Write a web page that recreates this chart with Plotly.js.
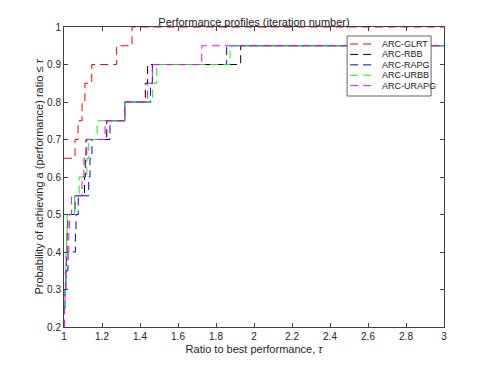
<!DOCTYPE html>
<html><head><meta charset="utf-8">
<script src="https://cdn.plot.ly/plotly-3.0.1.min.js"></script>
<style>html,body{margin:0;padding:0;background:#fff}#chart{width:491px;height:368px}</style>
</head><body><div id="chart"></div>
<script>
// ---- data ----
const seriesNames = ["ARC-GLRT", "ARC-RBB", "ARC-RAPG", "ARC-URBB", "ARC-URAPG"];

const glrtTau  = [1, 1.058, 1.074, 1.095, 1.11, 1.146, 1.277, 1.358, 3];
const glrtProb = [0.65, 0.70, 0.75, 0.80, 0.85, 0.90, 0.95, 1.00, 1.00];

const rbbTau  = [1, 1.01, 1.013, 1.016, 1.02, 1.058, 1.108, 1.112, 1.116, 1.225, 1.32, 1.428, 1.44, 1.93, 3];
const rbbProb = [0.30, 0.35, 0.40, 0.45, 0.50, 0.55, 0.60, 0.65, 0.70, 0.75, 0.80, 0.85, 0.90, 0.95, 0.95];

const rapgTau  = [1, 1.005, 1.01, 1.021, 1.06, 1.063, 1.075, 1.13, 1.137, 1.147, 1.242, 1.32, 1.455, 1.465, 1.856, 3];
const rapgProb = [0.25, 0.30, 0.35, 0.40, 0.45, 0.50, 0.55, 0.60, 0.65, 0.70, 0.75, 0.80, 0.85, 0.90, 0.95, 0.95];

const urbbTau  = [1, 1.005, 1.008, 1.01, 1.013, 1.016, 1.055, 1.08, 1.12, 1.13, 1.175, 1.32, 1.465, 1.488, 1.874, 3];
const urbbProb = [0.25, 0.30, 0.35, 0.40, 0.45, 0.50, 0.55, 0.60, 0.65, 0.70, 0.75, 0.80, 0.85, 0.90, 0.95, 0.95];

const urapgTau  = [1, 1.003, 1.005, 1.008, 1.012, 1.025, 1.03, 1.04, 1.095, 1.105, 1.12, 1.216, 1.32, 1.44, 1.465, 1.725, 3];
const urapgProb = [0.20, 0.25, 0.30, 0.35, 0.40, 0.45, 0.50, 0.55, 0.60, 0.65, 0.70, 0.75, 0.80, 0.85, 0.90, 0.95, 0.95];

const xTickVals = [1, 1.2, 1.4, 1.6, 1.8, 2, 2.2, 2.4, 2.6, 2.8, 3];
const yTickVals = [0.2, 0.3, 0.4, 0.5, 0.6, 0.7, 0.8, 0.9, 1];

// ---- styles ----
const colors = ["#ff0000", "#000000", "#0000ff", "#00ff00", "#ff00ff"];
const dashPattern = "8px,5px";
const font = "Liberation Sans, Arial, Helvetica, sans-serif";
const axisColor = "#404040";

const allX = [glrtTau, rbbTau, rapgTau, urbbTau, urapgTau];
const allY = [glrtProb, rbbProb, rapgProb, urbbProb, urapgProb];

const traces = seriesNames.map((n, i) => ({
  type: "scatter", mode: "lines", name: n,
  x: allX[i], y: allY[i],
  line: {shape: "hv", color: colors[i], width: 1, dash: dashPattern},
  showlegend: false, hoverinfo: "skip"
}));

// custom compact legend (Matlab-style)
const lgX0 = 0.745, lgX1 = 0.966, lgY0 = 0.770, lgY1 = 0.970;
const lgTop = 0.9433, lgStep = 0.0347;
const shapes = [{type: "rect", xref: "paper", yref: "paper", x0: lgX0, x1: lgX1, y0: lgY0, y1: lgY1,
  fillcolor: "#ffffff", line: {color: axisColor, width: 0.8}, layer: "above"}];
const annotations = [];
seriesNames.forEach((n, i) => {
  const yy = lgTop - i * lgStep;
  shapes.push({type: "line", xref: "paper", yref: "paper", x0: 0.753, x1: 0.813, y0: yy, y1: yy,
    line: {color: colors[i], width: 1, dash: dashPattern}, layer: "above"});
  annotations.push({xref: "paper", yref: "paper", x: 0.832, y: yy, xanchor: "left", yanchor: "middle",
    text: n, showarrow: false, font: {family: font, size: 9, color: "#1a1a1a"}});
});

const axisCommon = {
  showline: true, linecolor: axisColor, linewidth: 1, mirror: "ticks",
  ticks: "inside", ticklen: 4, tickcolor: axisColor, tickwidth: 1,
  showgrid: false, zeroline: false,
  tickfont: {family: font, size: 10, color: "#262626"}
};

const layout = {
  width: 491, height: 368,
  margin: {l: 64, r: 47, t: 27, b: 41},
  paper_bgcolor: "#ffffff", plot_bgcolor: "#ffffff",
  title: {text: "Performance profiles (iteration number)", font: {family: font, size: 11, color: "#1a1a1a"},
          x: 0.5, xref: "paper", y: 0.94, yref: "container", yanchor: "middle"},
  xaxis: Object.assign({}, axisCommon, {range: [1, 3], tickvals: xTickVals,
    title: {text: "Ratio to best performance, <i>τ</i>", font: {family: font, size: 11, color: "#262626"}, standoff: 4}}),
  yaxis: Object.assign({}, axisCommon, {range: [0.2, 1], tickvals: yTickVals,
    title: {text: "Probability of achieving a (performance) ratio ≤ <i>τ</i>", font: {family: font, size: 11, color: "#262626"}, standoff: 1}}),
  shapes: shapes, annotations: annotations
};

Plotly.newPlot("chart", traces, layout, {staticPlot: true, displayModeBar: false});
</script>
</body></html>
